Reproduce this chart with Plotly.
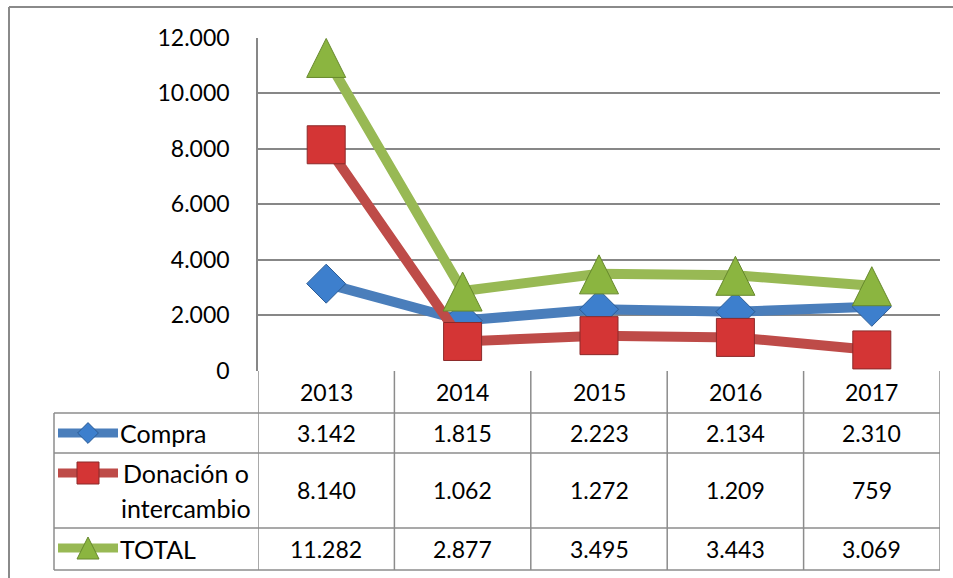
import plotly.graph_objects as go

# ---------------- data ----------------
years = ["2013", "2014", "2015", "2016", "2017"]
compra = [3142, 1815, 2223, 2134, 2310]
donacion = [8140, 1062, 1272, 1209, 759]
total = [11282, 2877, 3495, 3443, 3069]
series_names = ["Compra", "Donación o intercambio", "TOTAL"]
y_ticks = [0, 2000, 4000, 6000, 8000, 10000, 12000]

# ---------------- layout constants (pixels) ----------------
W, H = 953, 578
PL, PR, PT, PB = 258, 940, 37.5, 371
FONT = "Lato"
FS = 23
FS_LABEL = 25
GRID = "#878787"
TABLE = "#8C8C8C"

line_cols = ["#4A7EBB", "#BE4B48", "#98B954"]
fill_cols = ["#3D7FCD", "#D43535", "#8BB540"]
edge_cols = ["#2C5C95", "#8B2A2A", "#66882C"]
symbols = ["diamond", "square", "arrow-up"]
sizes = [30, 38, 39]
key_sizes = [16, 22, 22]

values = [compra, donacion, total]

# row geometry of the data table (pixels from top)
header_y = 392
row_centers = [433, 490, 549]
row_lines = [413, 453, 528, 570]
key_y = [433, 473, 548]

fig = go.Figure()

plot_h = PB - PT
tri_shift = 19 * 12000 / plot_h  # centre the arrow-up triangle on its point

for i, (name, vals) in enumerate(zip(series_names, values)):
    if symbols[i] == "arrow-up":
        fig.add_trace(go.Scatter(x=years, y=vals, mode="lines", name=name,
                                 line=dict(color=line_cols[i], width=10),
                                 showlegend=False, xaxis="x", yaxis="y",
                                 cliponaxis=False))
        fig.add_trace(go.Scatter(x=years, y=vals, mode="markers", name=name,
                                 marker=dict(symbol=symbols[i], size=sizes[i],
                                             color=fill_cols[i],
                                             line=dict(color=edge_cols[i], width=1)),
                                 showlegend=False, xaxis="x", yaxis="y3",
                                 cliponaxis=False))
    else:
        fig.add_trace(go.Scatter(x=years, y=vals, mode="lines+markers", name=name,
                                 line=dict(color=line_cols[i], width=10),
                                 marker=dict(symbol=symbols[i], size=sizes[i],
                                             color=fill_cols[i],
                                             line=dict(color=edge_cols[i], width=1)),
                                 showlegend=False, xaxis="x", yaxis="y",
                                 cliponaxis=False))

# legend keys inside the table
for i, name in enumerate(series_names):
    ky = key_y[i]
    fig.add_trace(go.Scatter(x=[58, 118], y=[ky, ky], mode="lines",
                             line=dict(color=line_cols[i], width=9),
                             showlegend=False, xaxis="x2", yaxis="y2", hoverinfo="skip"))
    my = ky - key_sizes[i] / 2 if symbols[i] == "arrow-up" else ky
    fig.add_trace(go.Scatter(x=[88], y=[my], mode="markers",
                             marker=dict(symbol=symbols[i], size=key_sizes[i],
                                         color=fill_cols[i],
                                         line=dict(color=edge_cols[i], width=1)),
                             showlegend=False, xaxis="x2", yaxis="y2", hoverinfo="skip"))

shapes = []
# outer chart border (top, left)
shapes.append(dict(type="line", xref="x2", yref="y2", x0=9, x1=W, y0=7, y1=7,
                   line=dict(color="#8A8A8A", width=2)))
shapes.append(dict(type="line", xref="x2", yref="y2", x0=9, x1=9, y0=7, y1=H,
                   line=dict(color="#8A8A8A", width=2)))
# table horizontal lines
for yy in row_lines:
    shapes.append(dict(type="line", xref="x2", yref="y2", x0=54, x1=PR, y0=yy, y1=yy,
                       line=dict(color=TABLE, width=1.5)))
# left border of table
shapes.append(dict(type="line", xref="x2", yref="y2", x0=54, x1=54,
                   y0=row_lines[0], y1=row_lines[-1], line=dict(color=TABLE, width=1.5)))
# vertical category boundaries
for k in range(len(years) + 1):
    shapes.append(dict(type="line", xref="x", yref="y2", x0=k - 0.5, x1=k - 0.5,
                       y0=PB, y1=row_lines[-1], line=dict(color=TABLE, width=1.5)))


def fmt(v):
    return f"{v:,}".replace(",", ".")


tf = dict(family=FONT, size=FS, color="#000000")
lf = dict(family=FONT, size=FS_LABEL, color="#000000")
annotations = []
for k, yr in enumerate(years):
    annotations.append(dict(x=k, y=header_y, xref="x", yref="y2", text=yr,
                            showarrow=False, font=tf, xanchor="center", yanchor="middle"))
for i, vals in enumerate(values):
    for k, v in enumerate(vals):
        annotations.append(dict(x=k, y=row_centers[i], xref="x", yref="y2", text=fmt(v),
                                showarrow=False, font=tf, xanchor="center", yanchor="middle"))

# series labels
for i, name in enumerate(series_names):
    if " o " in name:
        first, second = name.rsplit(" ", 1)
        annotations.append(dict(x=185.5, y=473, xref="x2", yref="y2", text=first,
                                showarrow=False, font=lf, xanchor="center", yanchor="middle"))
        annotations.append(dict(x=185.5, y=508, xref="x2", yref="y2", text=second,
                                showarrow=False, font=lf, xanchor="center", yanchor="middle"))
    else:
        annotations.append(dict(x=118, y=row_centers[i], xref="x2", yref="y2", text=name,
                                showarrow=False, font=lf, xanchor="left", yanchor="middle"))

fig.update_layout(
    width=W, height=H, autosize=False,
    margin=dict(l=0, r=0, t=0, b=0, pad=0, autoexpand=False),
    paper_bgcolor="white", plot_bgcolor="rgba(0,0,0,0)",
    separators=",.",
    showlegend=False,
    xaxis=dict(domain=[PL / W, PR / W], type="category", range=[-0.5, len(years) - 0.5],
               showticklabels=False, showgrid=False, zeroline=False, showline=False,
               anchor="y", fixedrange=True, automargin=False),
    yaxis=dict(domain=[1 - PB / H, 1 - PT / H], range=[0, 12000], tickvals=y_ticks,
               tickformat=",d", showgrid=True, gridcolor=GRID, gridwidth=1.5,
               zeroline=False, showline=True, linecolor=GRID, linewidth=1.5,
               ticks="outside", ticklen=22, tickcolor="rgba(0,0,0,0)",
               tickfont=tf, anchor="x", automargin=False, fixedrange=True),
    yaxis3=dict(overlaying="y", range=[-tri_shift, 12000 - tri_shift], visible=False,
                anchor="x", automargin=False, fixedrange=True),
    xaxis2=dict(domain=[0, 1], range=[0, W], visible=False, anchor="y2",
                automargin=False, fixedrange=True),
    yaxis2=dict(domain=[0, 1], range=[H, 0], visible=False, anchor="x2",
                automargin=False, fixedrange=True),
    shapes=shapes,
    annotations=annotations,
)

fig.write_html("out.html", config={"displayModeBar": False},
               post_script="document.body.style.margin='0';document.body.style.overflow='hidden';")
